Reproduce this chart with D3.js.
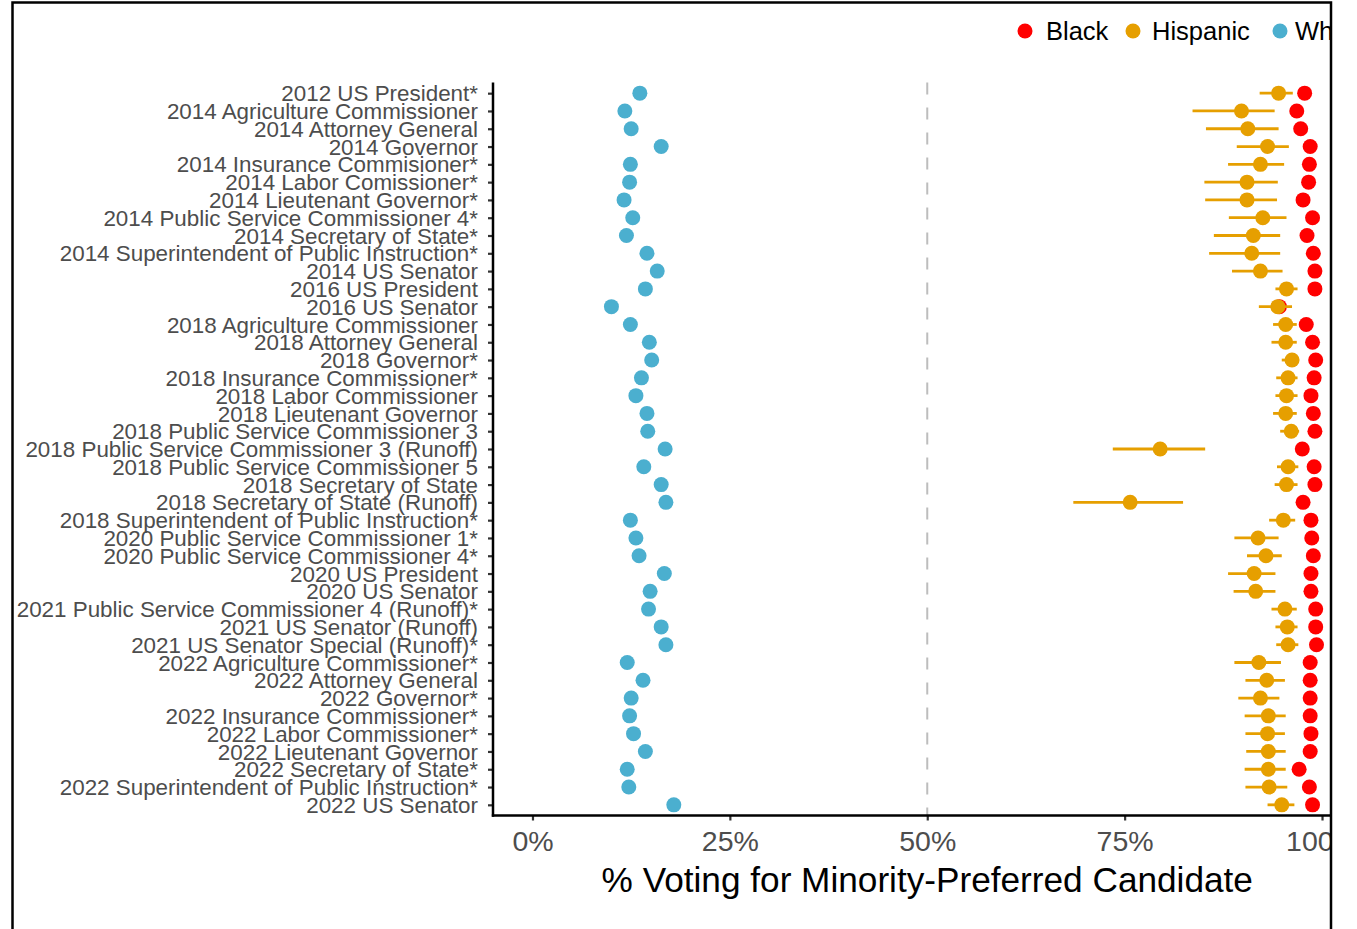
<!DOCTYPE html>
<html><head><meta charset="utf-8">
<script src="https://cdn.jsdelivr.net/npm/d3@7"></script>
<style>body{margin:0;background:#fff}svg{display:block}</style>
</head><body>
<script>
const contests = ["2012 US President*","2014 Agriculture Commissioner","2014 Attorney General","2014 Governor","2014 Insurance Commisioner*","2014 Labor Comissioner*","2014 Lieutenant Governor*","2014 Public Service Commissioner 4*","2014 Secretary of State*","2014 Superintendent of Public Instruction*","2014 US Senator","2016 US President","2016 US Senator","2018 Agriculture Commissioner","2018 Attorney General","2018 Governor*","2018 Insurance Commissioner*","2018 Labor Commissioner","2018 Lieutenant Governor","2018 Public Service Commissioner 3","2018 Public Service Commissioner 3 (Runoff)","2018 Public Service Commissioner 5","2018 Secretary of State","2018 Secretary of State (Runoff)","2018 Superintendent of Public Instruction*","2020 Public Service Commissioner 1*","2020 Public Service Commissioner 4*","2020 US President","2020 US Senator","2021 Public Service Commissioner 4 (Runoff)*","2021 US Senator (Runoff)","2021 US Senator Special (Runoff)*","2022 Agriculture Commissioner*","2022 Attorney General","2022 Governor*","2022 Insurance Commissioner*","2022 Labor Commissioner*","2022 Lieutenant Governor","2022 Secretary of State*","2022 Superintendent of Public Instruction*","2022 US Senator"];
const black = [97.8,96.8,97.3,98.5,98.4,98.3,97.6,98.8,98.1,98.9,99.1,99.1,94.6,98.0,98.8,99.2,99.0,98.6,98.9,99.1,97.5,99.0,99.1,97.6,98.6,98.7,98.9,98.6,98.6,99.2,99.2,99.3,98.5,98.5,98.5,98.5,98.6,98.5,97.1,98.4,98.8];
const hispanic = [94.5,89.8,90.6,93.1,92.2,90.5,90.5,92.5,91.3,91.1,92.2,95.5,94.4,95.4,95.4,96.2,95.7,95.5,95.4,96.1,79.5,95.7,95.5,75.7,95.1,91.9,92.9,91.4,91.6,95.3,95.6,95.7,92.0,93.0,92.2,93.2,93.1,93.2,93.2,93.3,94.9];
const hispLow = [92.1,83.6,85.3,89.2,88.1,85.1,85.2,88.2,86.3,85.7,88.6,94.1,92.0,93.8,93.6,94.9,94.2,94.1,93.8,94.7,73.5,94.3,94.0,68.5,93.3,88.9,90.5,88.1,88.8,93.6,94.1,94.2,88.9,90.3,89.4,90.2,90.3,90.4,90.2,90.3,93.1];
const hispHigh = [96.3,94.0,94.5,95.8,95.2,94.4,94.3,95.5,94.7,94.7,95.0,96.9,96.2,96.8,96.8,97.1,96.9,96.9,96.8,97.1,85.2,97.0,96.9,82.4,96.6,94.5,94.9,94.1,94.1,96.8,96.9,97.0,94.8,95.3,94.6,95.4,95.3,95.4,95.4,95.6,96.5];
const white = [13.6,11.7,12.5,16.3,12.4,12.3,11.6,12.7,11.9,14.5,15.8,14.3,10.0,12.4,14.8,15.1,13.8,13.1,14.5,14.6,16.8,14.1,16.3,16.9,12.4,13.1,13.5,16.7,14.9,14.7,16.3,16.9,12.0,14.0,12.5,12.3,12.8,14.3,12.0,12.2,17.9];
const xTicks = [0,25,50,75,100];
const xTickLabels = ["0%","25%","50%","75%","100%"];
const groups = ["Black","Hispanic","White"];
const colors = ["#ff0000","#e69f00","#4bafcf"];

const W=1357,H=929;
const FONT="Liberation Sans, Arial, sans-serif";
const svg=d3.select("body").append("svg").attr("width",W).attr("height",H);
svg.append("defs").append("clipPath").attr("id","frame").append("rect").attr("x",12).attr("y",2).attr("width",1319).attr("height",940);
const g=svg.append("g").attr("clip-path","url(#frame)");

const pL=493,pR=1361.5,pT=82.5,pB=815.5;
const x=d3.scaleLinear().domain([-5,105]).range([pL,pR]);
const y=d3.scalePoint().domain(contests).range([pT,pB]).padding(0.6);

// dashed 50% line
g.append("line").attr("x1",x(50)).attr("x2",x(50)).attr("y1",pT).attr("y2",pB)
 .attr("stroke","#bdbdbd").attr("stroke-width",2).attr("stroke-dasharray","12,13");

// y axis
const yAx=g.append("g").attr("transform",`translate(${pL},0)`).call(d3.axisLeft(y).tickSize(5).tickPadding(10));
yAx.select(".domain").remove();
yAx.selectAll(".tick line").attr("stroke","#333").attr("stroke-width",2.2);
yAx.selectAll(".tick text").attr("font-family",FONT).attr("font-size",22.4).attr("fill","#4d4d4d").attr("dy","0.34em");

// x axis
const xAx=g.append("g").attr("transform",`translate(0,${pB})`).call(d3.axisBottom(x).tickValues(xTicks).tickFormat((d,i)=>xTickLabels[i]).tickSize(5).tickPadding(10));
xAx.select(".domain").remove();
xAx.selectAll(".tick line").attr("stroke","#333").attr("stroke-width",2.2);
xAx.selectAll(".tick text").attr("font-family",FONT).attr("font-size",28.5).attr("fill","#4d4d4d");

// axis lines
g.append("line").attr("x1",pL).attr("x2",pL).attr("y1",pT).attr("y2",pB+1.2).attr("stroke","#000").attr("stroke-width",2.5);
g.append("line").attr("x1",pL-1.2).attr("x2",pR).attr("y1",pB).attr("y2",pB).attr("stroke","#000").attr("stroke-width",2.5);

const R=7.5;
// black points (under)
g.append("g").selectAll("circle").data(contests).join("circle")
 .attr("cx",(d,i)=>x(black[i])).attr("cy",d=>y(d)).attr("r",R).attr("fill",colors[0]);
// hispanic error bars + points
g.append("g").selectAll("line").data(contests).join("line")
 .attr("x1",(d,i)=>x(hispLow[i])).attr("x2",(d,i)=>x(hispHigh[i])).attr("y1",d=>y(d)).attr("y2",d=>y(d))
 .attr("stroke",colors[1]).attr("stroke-width",2.8);
g.append("g").selectAll("circle").data(contests).join("circle")
 .attr("cx",(d,i)=>x(hispanic[i])).attr("cy",d=>y(d)).attr("r",R).attr("fill",colors[1]);
// white points
g.append("g").selectAll("circle").data(contests).join("circle")
 .attr("cx",(d,i)=>x(white[i])).attr("cy",d=>y(d)).attr("r",R).attr("fill",colors[2]);

// x title
g.append("text").attr("x",(pL+pR)/2).attr("y",892).attr("text-anchor","middle")
 .attr("font-family",FONT).attr("font-size",35.2).attr("fill","#000")
 .text("% Voting for Minority-Preferred Candidate");

// legend
const legDotX=[1025,1133,1280];
const legTextX=[1046,1152,1295];
const leg=g.append("g");
groups.forEach((gr,i)=>{
  leg.append("circle").attr("cx",legDotX[i]).attr("cy",31).attr("r",7.5).attr("fill",colors[i]);
  leg.append("text").attr("x",legTextX[i]).attr("y",40).attr("font-family",FONT)
   .attr("font-size",25.5).attr("fill","#000").text(gr);
});

// frame
svg.append("rect").attr("x",12.5).attr("y",2.5).attr("width",1318.5).attr("height",940).attr("fill","none").attr("stroke","#000").attr("stroke-width",2.5);
</script>
</body></html>
